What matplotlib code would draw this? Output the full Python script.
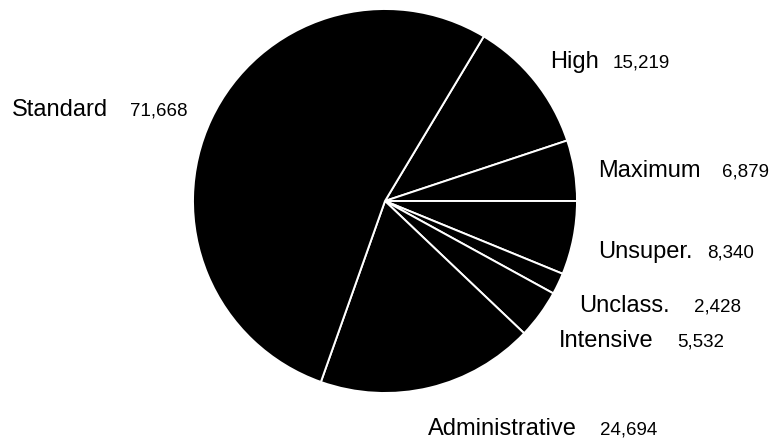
import matplotlib.pyplot as plt

# slices in clockwise order, starting at the top right
categories = ["High", "Maximum", "Unsuper.", "Unclass.", "Intensive", "Administrative", "Standard"]
counts = [15219, 6879, 8340, 2428, 5532, 24694, 71668]

# label layout in pixels: name x, value x, baseline y
label_pos = [
    (550, 613, 68),
    (598, 722, 177),
    (598, 707, 258),
    (579, 694, 312),
    (559, 677, 347),
    (428, 600, 435),
    (12, 130, 116),
]

W, H = 773, 439
CX, CY, R = 385, 202, 192


def to_data(px, py):
    return (px - CX) / R, (CY - py) / R


def plot_pie():
    fig = plt.figure(figsize=(W / 100, H / 100), dpi=100)
    ax = fig.add_axes([0, 0, 1, 1])
    total = sum(counts)
    start = 360 * (counts[0] + counts[1]) / total
    ax.pie(counts, colors=["black"], startangle=start, counterclock=False,
           wedgeprops=dict(edgecolor="white", linewidth=1.4))
    ax.set_xlim(-CX / R, (W - CX) / R)
    ax.set_ylim(-(H - CY) / R, CY / R)
    ax.set_aspect("auto")
    ax.axis("off")

    for name, n, (nx, vx, by) in zip(categories, counts, label_pos):
        x, y = to_data(nx, by)
        ax.text(x, y, name, fontsize=17, family="Liberation Sans",
                ha="left", va="baseline")
        x, y = to_data(vx, by)
        ax.text(x, y, f"{n:,}", fontsize=13.5, family="Liberation Sans",
                ha="left", va="baseline")

    fig.savefig("out.png", dpi=100)


if __name__ == "__main__":
    plot_pie()
